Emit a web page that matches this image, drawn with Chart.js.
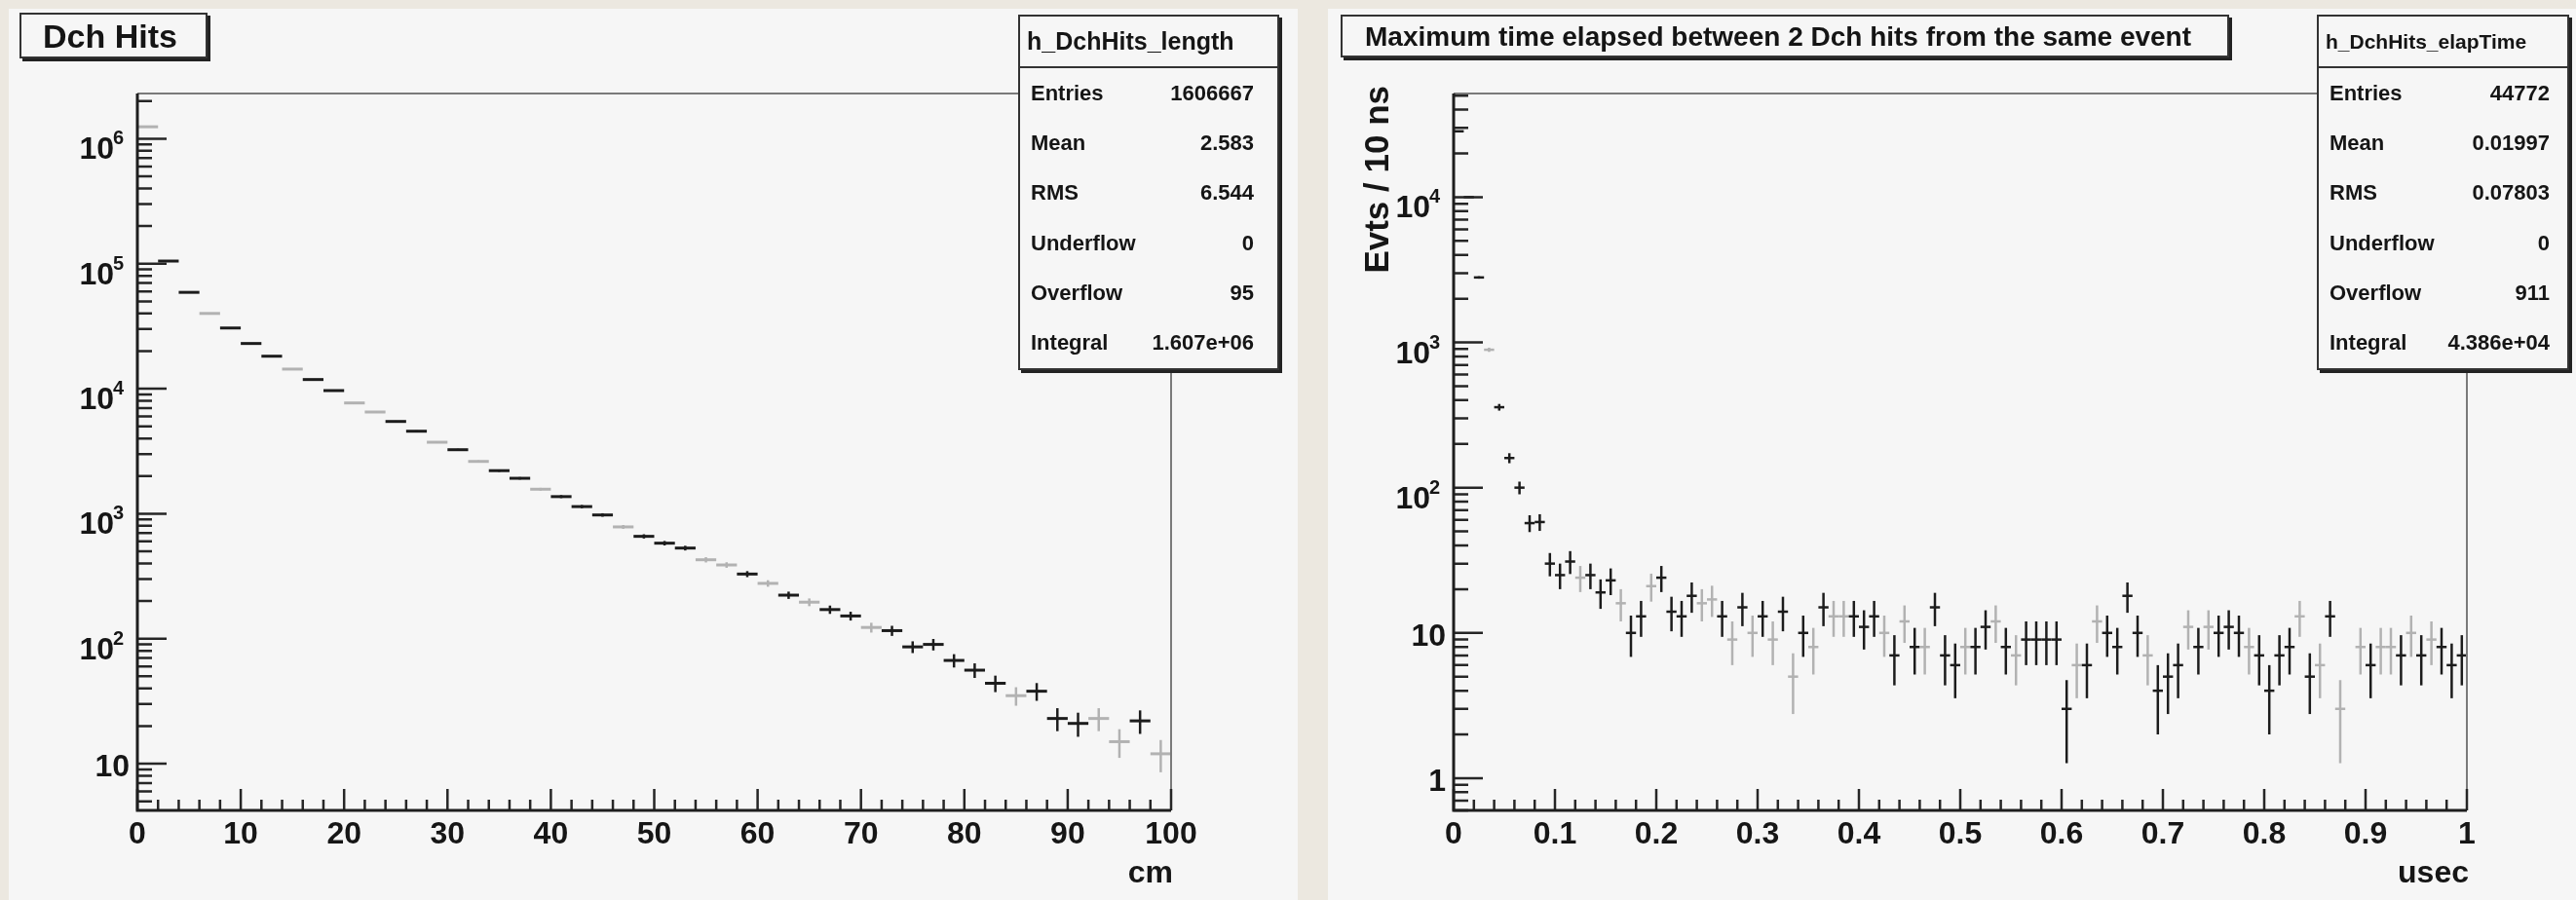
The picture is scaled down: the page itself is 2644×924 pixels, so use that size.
<!DOCTYPE html>
<html>
<head>
<meta charset="utf-8">
<script src="https://cdn.jsdelivr.net/npm/chart.js@4.4.1/dist/chart.umd.min.js"></script>
<style>
  html, body { margin: 0; padding: 0; width: 2644px; height: 924px; overflow: hidden;
               background: #ece8e0; font-family: "Liberation Sans", Arial, sans-serif; }
  .pad { position: absolute; top: 9px; height: 915px; background: #f6f6f6; }
  #padL { left: 9px; width: 1323px; }
  #padR { left: 1363px; width: 1281px; }
  .pad canvas { position: absolute; left: 0; top: 0; }
  .title { position: absolute; box-sizing: border-box; background: #f6f6f6; border: 2px solid #333;
           box-shadow: 3px 3px 0 #222; font-weight: bold; color: #151515; white-space: nowrap; }
  .stats { position: absolute; box-sizing: border-box; background: #f6f6f6; border: 2px solid #333;
           box-shadow: 3px 3px 0 #222; display: flex; flex-direction: column; color: #151515;
           font-weight: bold; white-space: nowrap; }
  .stats .sh { height: 53px; box-sizing: border-box; border-bottom: 2px solid #333;
               display: flex; align-items: center; }
  .stats .sr { flex: 1; display: flex; justify-content: space-between; align-items: center; font-size: 22px; }
</style>
</head>
<body>
<div class="pad" id="padL">
  <canvas id="chartL" width="1323" height="915"></canvas>
  <div class="title" style="left:11px;top:4px;width:193px;height:47px;font-size:34px;padding:3px 0 0 22px">Dch Hits</div>
  <div class="stats" id="statsL" style="left:1036px;top:6px;width:268px;height:365px"></div>
</div>
<div class="pad" id="padR">
  <canvas id="chartR" width="1281" height="915"></canvas>
  <div class="title" style="left:13px;top:6px;width:912px;height:44px;font-size:28px;padding:5px 0 0 23px">Maximum time elapsed between 2 Dch hits from the same event</div>
  <div class="stats" id="statsR" style="left:1015px;top:6px;width:259px;height:365px"></div>
</div>

<script>
/* ── Data: h_DchHits_length (50 bins, 0–100 cm) ─────────────── */
const lengthRange  = [0, 100];
const lengthCounts = [1246000, 105000, 59000, 40000, 30600, 23000, 18200, 14350, 11840, 9660,
                      7690, 6510, 5470, 4570, 3730, 3250, 2620, 2210, 1920, 1570,
                      1370, 1140, 977, 784, 659, 581, 531, 428, 389, 329,
                      277, 223, 196, 171, 152, 123, 116, 86, 90, 67,
                      56, 44, 35, 38, 23, 21, 23, 15, 22, 12];
const lengthXTicks  = [0, 10, 20, 30, 40, 50, 60, 70, 80, 90, 100];
const lengthXLabels = ['0', '10', '20', '30', '40', '50', '60', '70', '80', '90', '100'];
const lengthYTicks  = [10, 1e2, 1e3, 1e4, 1e5, 1e6];
const lengthYLabels = ['10', '10^2', '10^3', '10^4', '10^5', '10^6'];
const lengthStats   = [['Entries', '1606667'], ['Mean', '2.583'], ['RMS', '6.544'],
                       ['Underflow', '0'], ['Overflow', '95'], ['Integral', '1.607e+06']];

/* ── Data: h_DchHits_elapTime (100 bins, 0–1 usec) ──────────── */
const elapRange  = [0, 1];
const elapCounts = [28400, 10000, 2800, 890, 358, 160, 100, 57, 58, 30,
                    25, 31, 24, 25, 19, 23, 16, 10, 13, 21,
                    24, 14, 13, 18, 16, 17, 13, 9, 15, 10,
                    13, 9, 14, 5, 10, 8, 15, 13, 13, 13,
                    11, 13, 10, 7, 12, 8, 8, 15, 7, 6,
                    8, 8, 11, 12, 8, 7, 9, 9, 9, 9,
                    3, 6, 6, 12, 10, 8, 18, 10, 7, 4,
                    5, 6, 11, 8, 11, 10, 11, 10, 8, 7,
                    4, 7, 8, 13, 5, 6, 13, 3, null, 8,
                    6, 8, 8, 7, 10, 7, 9, 8, 6, 7];
const elapXTicks  = [0, 0.1, 0.2, 0.3, 0.4, 0.5, 0.6, 0.7, 0.8, 0.9, 1];
const elapXLabels = ['0', '0.1', '0.2', '0.3', '0.4', '0.5', '0.6', '0.7', '0.8', '0.9', '1'];
const elapYTicks  = [1, 10, 1e2, 1e3, 1e4];
const elapYLabels = ['1', '10', '10^2', '10^3', '10^4'];
const elapStats   = [['Entries', '44772'], ['Mean', '0.01997'], ['RMS', '0.07803'],
                     ['Underflow', '0'], ['Overflow', '911'], ['Integral', '4.386e+04']];

/* markers that come out pale in the screenshot (style only) */
const lengthFaint = [0, 3, 7, 10, 11, 14, 16, 19, 23, 27, 28, 30, 32, 35, 42, 46, 47, 49];
const elapFaint   = [3, 12, 16, 19, 24, 25, 27, 29, 31, 33, 35, 37, 38, 42, 44, 46, 50, 53, 55,
                     61, 63, 68, 72, 74, 78, 83, 85, 87, 89, 91, 92, 94, 96];

const FONT = '"Liberation Sans", Arial, sans-serif';

/* ── Histogram points: bin centre, half width, sqrt(N) error ── */
function toPoints(counts, range) {
  const w = (range[1] - range[0]) / counts.length;
  return counts.map((n, i) => ({
    x: range[0] + (i + 0.5) * w, y: n, ex: w / 2, ey: n == null ? 0 : Math.sqrt(n)
  }));
}

/* ── Plugin: ROOT style crosses ─────────────────────────────── */
const histMarks = {
  id: 'histMarks',
  afterDatasetsDraw(chart, args, opt) {
    const { ctx, scales: { x, y } } = chart;
    const faint = new Set(opt.faint || []);
    ctx.save();
    chart.data.datasets[0].data.forEach((p, i) => {
      if (p.y == null) return;
      ctx.strokeStyle = faint.has(i) ? '#b2b2b2' : '#1c1c1c';
      const xc = x.getPixelForValue(p.x), yc = y.getPixelForValue(p.y);
      ctx.lineWidth = opt.hWidth;
      ctx.beginPath();
      ctx.moveTo(x.getPixelForValue(p.x - p.ex), yc);
      ctx.lineTo(x.getPixelForValue(p.x + p.ex), yc);
      ctx.stroke();
      ctx.lineWidth = opt.vWidth;
      ctx.beginPath();
      ctx.moveTo(xc, y.getPixelForValue(p.y + p.ey));
      ctx.lineTo(xc, y.getPixelForValue(Math.max(p.y - p.ey, y.min)));
      ctx.stroke();
    });
    ctx.restore();
  }
};

/* ── Plugin: frame, inward ticks, labels, titles ────────────── */
const rootAxes = {
  id: 'rootAxes',
  afterDraw(chart, args, o) {
    const { ctx, chartArea: a, scales: { x, y } } = chart;
    ctx.save();

    // frame (top / right)
    ctx.strokeStyle = '#7a7a7a'; ctx.lineWidth = 2;
    ctx.beginPath();
    ctx.moveTo(a.left, a.top); ctx.lineTo(a.right, a.top); ctx.lineTo(a.right, a.bottom);
    ctx.stroke();

    // x ticks
    ctx.strokeStyle = '#262626'; ctx.lineWidth = 2.5;
    const nMinor = Math.round((x.max - x.min) / o.xMinor);
    const perMajor = Math.round(o.xMajor / o.xMinor);
    ctx.beginPath();
    for (let k = 0; k <= nMinor; k++) {
      const px = x.getPixelForValue(x.min + k * o.xMinor);
      const len = k % perMajor === 0 ? 22 : 11;
      ctx.moveTo(px, a.bottom); ctx.lineTo(px, a.bottom - len);
    }
    // y ticks (decades + 2..9)
    const d0 = Math.floor(Math.log10(y.min)), d1 = Math.ceil(Math.log10(y.max));
    for (let d = d0; d <= d1; d++) {
      for (let k = 1; k <= 9; k++) {
        const v = k * Math.pow(10, d);
        if (v < y.min || v > y.max) continue;
        const py = y.getPixelForValue(v);
        ctx.moveTo(a.left, py); ctx.lineTo(a.left + (k === 1 ? 30 : 15), py);
      }
    }
    ctx.stroke();

    // axis lines
    ctx.strokeStyle = '#1e1e1e'; ctx.lineWidth = 3;
    ctx.beginPath();
    ctx.moveTo(a.left, a.top); ctx.lineTo(a.left, a.bottom); ctx.lineTo(a.right, a.bottom);
    ctx.stroke();

    // x labels
    ctx.fillStyle = '#161616';
    ctx.font = 'bold 32px ' + FONT;
    ctx.textAlign = 'center'; ctx.textBaseline = 'alphabetic';
    o.xTicks.forEach((v, i) => ctx.fillText(o.xLabels[i], x.getPixelForValue(v), a.bottom + 34));

    // y labels, "10^n" drawn with raised exponent
    o.yTicks.forEach((v, i) => {
      const py = y.getPixelForValue(v);
      const [base, exp] = o.yLabels[i].split('^');
      ctx.font = 'bold 32px ' + FONT;
      if (exp === undefined) {
        ctx.textAlign = 'right';
        ctx.fillText(base, a.left - 8, py + 13);
      } else {
        ctx.textAlign = 'right';
        ctx.fillText(base, a.left - 24, py + 21);
        ctx.font = 'bold 20px ' + FONT;
        ctx.textAlign = 'left';
        ctx.fillText(exp, a.left - 25, py + 6);
      }
    });

    // axis titles
    ctx.font = 'bold 32px ' + FONT;
    ctx.textAlign = 'right';
    ctx.fillText(o.xTitle, a.right + 2, a.bottom + 74);
    if (o.yTitle) {
      ctx.font = 'bold 35px ' + FONT;
      ctx.translate(a.left - 67, a.top - 8);
      ctx.rotate(-Math.PI / 2);
      ctx.fillText(o.yTitle, 0, 0);
    }
    ctx.restore();
  }
};

function makeHist(id, counts, range, yMin, yMax, pad, axes, marks) {
  return new Chart(document.getElementById(id), {
    type: 'scatter',
    data: { datasets: [{ data: toPoints(counts, range), pointRadius: 0, pointHoverRadius: 0 }] },
    options: {
      responsive: false,
      animation: false,
      devicePixelRatio: 1,
      layout: { padding: pad },
      scales: {
        x: { type: 'linear', min: range[0], max: range[1], display: false },
        y: { type: 'logarithmic', min: yMin, max: yMax, display: false }
      },
      plugins: {
        legend: { display: false },
        tooltip: { enabled: false },
        histMarks: marks,
        rootAxes: axes
      }
    },
    plugins: [histMarks, rootAxes]
  });
}

function fillStats(id, title, rows, font, padL, padR) {
  const el = document.getElementById(id);
  el.innerHTML = `<div class="sh" style="font-size:${font}px;padding-left:${padL - 4}px">${title}</div>` +
    rows.map(r => `<div class="sr" style="padding:0 ${padR}px 0 ${padL}px"><span>${r[0]}</span><span>${r[1]}</span></div>`).join('');
}

makeHist('chartL', lengthCounts, lengthRange, 4.23, 2.3e6,
  { left: 132, right: 130, top: 87, bottom: 92 },
  { xTicks: lengthXTicks, xLabels: lengthXLabels, xMinor: 2, xMajor: 10,
    yTicks: lengthYTicks, yLabels: lengthYLabels, xTitle: 'cm' },
  { faint: lengthFaint, hWidth: 3, vWidth: 2.5 });

makeHist('chartR', elapCounts, elapRange, 0.641, 51700,
  { left: 129, right: 112, top: 87, bottom: 92 },
  { xTicks: elapXTicks, xLabels: elapXLabels, xMinor: 0.02, xMajor: 0.1,
    yTicks: elapYTicks, yLabels: elapYLabels, xTitle: 'usec', yTitle: 'Evts / 10 ns' },
  { faint: elapFaint, hWidth: 2.5, vWidth: 2.5 });

fillStats('statsL', 'h_DchHits_length', lengthStats, 25, 11, 24);
fillStats('statsR', 'h_DchHits_elapTime', elapStats, 21, 11, 18);
</script>
</body>
</html>
